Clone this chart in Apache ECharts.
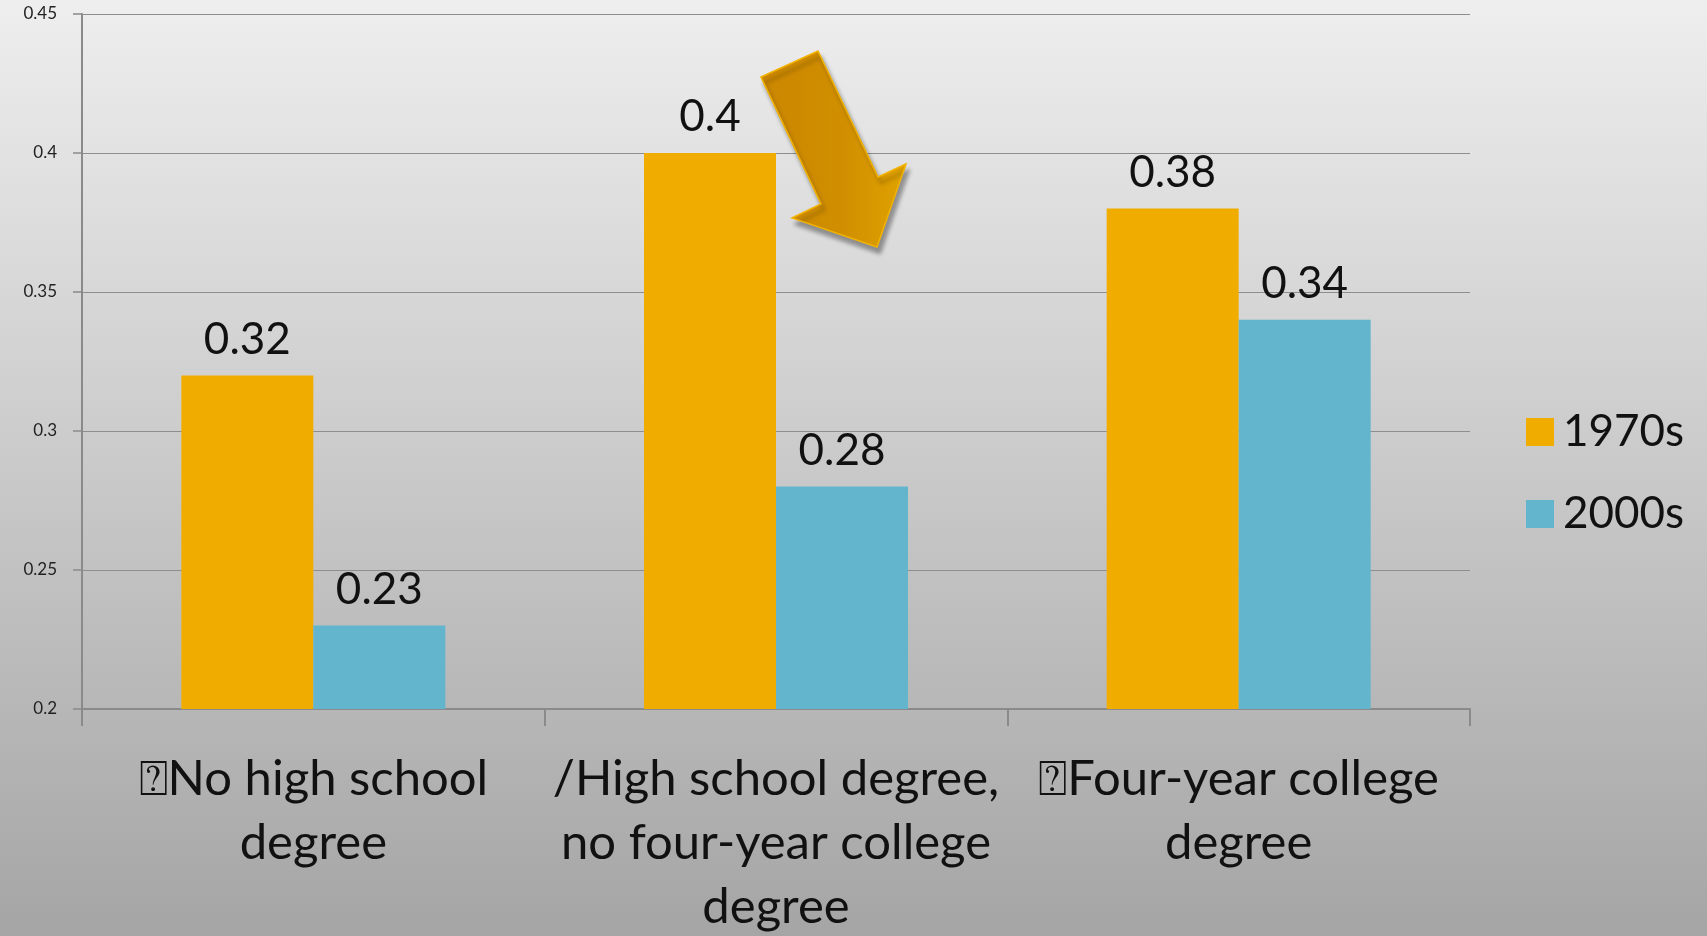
<!DOCTYPE html>
<html>
<head>
<meta charset="utf-8">
<title>Education groups, 1970s vs 2000s</title>
<script src="https://cdn.jsdelivr.net/npm/echarts@6/dist/echarts.min.js"></script>
<style>
  html, body { margin: 0; padding: 0; }
  #chart { width: 1707px; height: 936px; }
</style>
</head>
<body>
<div id="chart"></div>
<script>
// Education categories (labels carry their own line breaks)
const categories = [
  '\u2370No high school\ndegree',
  '/High school degree,\nno four-year college\ndegree',
  '\u2370Four-year college\ndegree'
];
const seriesNames = ['1970s', '2000s'];
const values1970s = [0.32, 0.40, 0.38];
const values2000s = [0.23, 0.28, 0.34];
const yTicks = [0.2, 0.25, 0.3, 0.35, 0.4, 0.45];

const ORANGE = '#F0AD00';
const BLUE = '#62B5CC';
const FONT = 'Lato';

const chart = echarts.init(document.getElementById('chart'));

const valueLabel = {
  show: true,
  position: 'top',
  distance: 14,
  color: '#111',
  fontFamily: FONT,
  fontSize: 44,
  formatter: p => String(p.value)
};

chart.setOption({
  backgroundColor: new echarts.graphic.LinearGradient(0, 0, 0, 1, [
    { offset: 0, color: '#EEEEEE' },
    { offset: 1, color: '#A5A5A5' }
  ]),
  animation: false,
  grid: { left: 82, right: 237, top: 14, bottom: 227, containLabel: false, outerBoundsMode: 'none' },
  legend: {
    orient: 'vertical',
    left: 1521,
    top: 405,
    itemWidth: 28,
    itemHeight: 28,
    itemGap: 38,
    icon: 'rect',
    textStyle: { fontFamily: FONT, fontSize: 44, color: '#111', lineHeight: 42, padding: [0, 0, 0, 4] },
    data: seriesNames
  },
  xAxis: {
    type: 'category',
    data: categories,
    boundaryGap: true,
    axisLine: { lineStyle: { color: '#8A8A8A', width: 2 } },
    axisTick: { show: true, alignWithLabel: false, length: 17, lineStyle: { color: '#8A8A8A', width: 2 } },
    axisLabel: {
      interval: 0,
      margin: 38,
      fontFamily: FONT,
      fontSize: 49,
      lineHeight: 64,
      color: '#111',
      align: 'center'
    }
  },
  yAxis: {
    type: 'value',
    min: 0.2,
    max: 0.45,
    interval: 0.05,
    axisLine: { show: true, lineStyle: { color: '#8A8A8A', width: 2 } },
    axisTick: { show: true, length: 9, lineStyle: { color: '#8A8A8A', width: 1.5 } },
    splitLine: { show: true, lineStyle: { color: '#8E8E8E', width: 1.2 } },
    axisLabel: {
      margin: 25,
      fontFamily: FONT,
      fontSize: 17,
      color: '#222',
      formatter: v => {
        const hit = yTicks.find(t => Math.abs(t - v) < 1e-9);
        return hit !== undefined ? String(hit) : '';
      }
    }
  },
  series: [
    {
      name: seriesNames[0],
      type: 'bar',
      data: values1970s,
      barWidth: 132,
      barGap: '0%',
      itemStyle: { color: ORANGE },
      label: valueLabel
    },
    {
      name: seriesNames[1],
      type: 'bar',
      data: values2000s,
      barWidth: 132,
      barGap: '0%',
      itemStyle: { color: BLUE },
      label: valueLabel
    }
  ],
  graphic: [
    {
      // Downward arrow pointing at the drop in the middle group
      type: 'polygon',
      z: 100,
      shape: {
        points: [[761, 77], [818, 51], [878, 177], [906, 164], [877, 247], [792, 218], [821, 204]]
      },
      style: {
        fill: new echarts.graphic.LinearGradient(0, 0, 1, 0, [
          { offset: 0, color: '#CB8700' },
          { offset: 0.55, color: '#D08E00' },
          { offset: 1, color: '#E0A200' }
        ]),
        stroke: '#F2B200',
        lineWidth: 1.5,
        shadowColor: 'rgba(0,0,0,0.35)',
        shadowBlur: 4,
        shadowOffsetX: 3,
        shadowOffsetY: 6
      }
    }
  ]
});
</script>
</body>
</html>
